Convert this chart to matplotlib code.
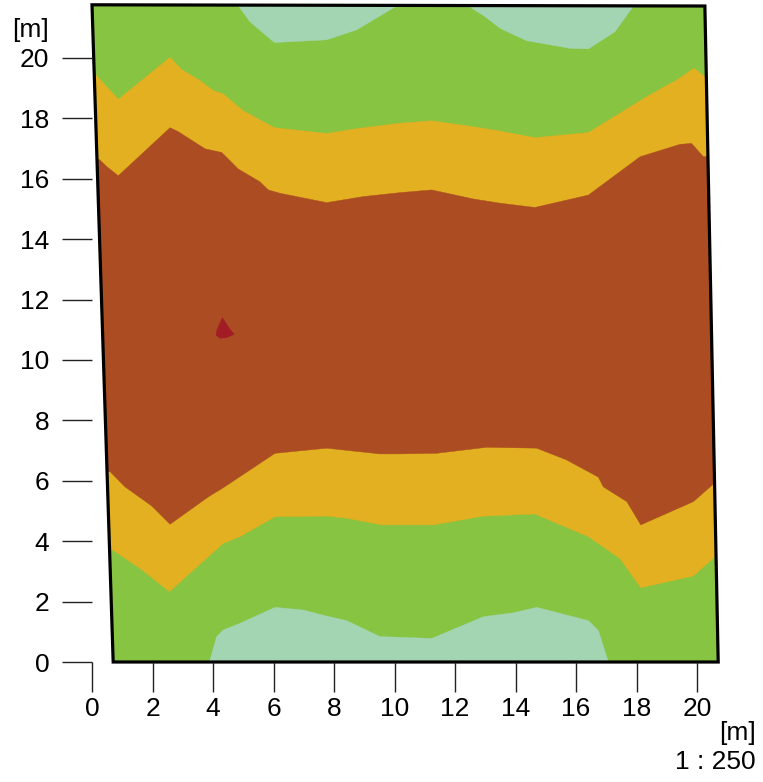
import numpy as np
import matplotlib.pyplot as plt
from matplotlib.patches import Polygon

plt.rcParams['font.family'] = ['Liberation Sans', 'DejaVu Sans']

# outline of the plot area [m]
outline_x = [0.0, 0.70, 20.70, 20.26]
outline_y = [21.76, 0.0, 0.0, 21.72]

# band boundaries (x, y) in metres, left to right
pale_top_left_x = [4.84, 5.22, 6.03, 7.76, 8.75, 10.07]
pale_top_left_y = [21.72, 21.2, 20.51, 20.6, 20.93, 21.72]
pale_top_right_x = [12.44, 12.99, 13.49, 14.37, 15.8, 16.41, 17.29, 17.9]
pale_top_right_y = [21.72, 21.37, 20.98, 20.57, 20.32, 20.30, 20.87, 21.72]

orange_top_x = [0.13, 0.87, 2.58, 2.96, 3.57, 4.01, 4.34, 5.0, 6.03, 7.76, 8.75,
                10.18, 11.23, 12.55, 13.49, 14.64, 16.41, 18.34, 19.33, 19.9, 20.23]
orange_top_y = [19.44, 18.63, 20.02, 19.62, 19.25, 18.92, 18.81, 18.25, 17.69, 17.5, 17.66,
                17.84, 17.92, 17.73, 17.58, 17.36, 17.53, 18.72, 19.27, 19.66, 19.40]

brown_top_x = [0.24, 0.49, 0.87, 2.58, 2.85, 3.74, 4.29, 4.84, 5.55, 5.83, 6.21, 7.76, 8.97,
               10.18, 11.23, 12.61, 13.49, 14.64, 16.41, 18.12, 19.44, 19.82, 20.21]
brown_top_y = [16.64, 16.40, 16.10, 17.69, 17.56, 16.99, 16.87, 16.32, 15.90, 15.63, 15.52, 15.21, 15.41,
               15.54, 15.63, 15.33, 15.19, 15.05, 15.46, 16.73, 17.14, 17.17, 16.73]

brown_bot_x = [0.60, 1.09, 1.97, 2.58, 3.85, 4.34, 6.05, 7.76, 9.52, 10.18, 11.39, 13.05,
               14.70, 15.69, 16.74, 16.90, 17.68, 18.14, 19.88, 20.54]
brown_bot_y = [6.30, 5.80, 5.17, 4.56, 5.47, 5.77, 6.91, 7.08, 6.89, 6.89, 6.91, 7.11,
               7.08, 6.69, 6.12, 5.80, 5.31, 4.54, 5.31, 5.89]

orange_bot_x = [0.68, 1.59, 2.56, 4.34, 4.89, 6.05, 7.76, 8.42, 9.58, 10.18, 11.28, 12.94,
                14.64, 16.41, 17.45, 18.14, 19.88, 20.60]
orange_bot_y = [3.71, 3.10, 2.33, 3.93, 4.15, 4.81, 4.83, 4.76, 4.54, 4.54, 4.54, 4.83,
                4.90, 4.15, 3.43, 2.46, 2.85, 3.49]

pale_bot_x = [3.88, 4.12, 4.34, 4.89, 6.05, 6.99, 7.76, 8.42, 9.52, 10.18, 11.23, 12.94,
              13.93, 14.70, 16.41, 16.74, 17.07]
pale_bot_y = [0.0, 0.84, 1.06, 1.28, 1.81, 1.72, 1.52, 1.37, 0.84, 0.82, 0.78, 1.50,
              1.63, 1.81, 1.37, 1.04, 0.0]

spot_x = [4.31, 4.56, 4.70, 4.45, 4.23, 4.10, 4.13, 4.22]
spot_y = [11.40, 11.02, 10.85, 10.74, 10.72, 10.82, 11.00, 11.20]

c_pale = '#a3d5b2'
c_green = '#86c442'
c_orange = '#e2b020'
c_brown = '#ab4c22'
c_red = '#a11c25'


def extend(xs, ys):
    # stretch a boundary past both edges so the clip cuts it cleanly
    return [-1.0] + list(xs) + [22.0], [ys[0]] + list(ys) + [ys[-1]]


def cap(xs, ys, yend):
    # close a patch that touches the top or bottom edge
    return [xs[0]] + list(xs) + [xs[-1]], [yend] + list(ys) + [yend]


fig = plt.figure(figsize=(7.63, 7.82), dpi=100)
ax = fig.add_axes([92 / 763, 120 / 782, 626.8 / 763, 657.2 / 782])
ax.set_xlim(0, 20.72)
ax.set_ylim(0, 21.76)

quad = Polygon(np.column_stack([outline_x, outline_y]), closed=True,
               facecolor=c_green, edgecolor='none')
ax.add_patch(quad)

bands = []
ox1, oy1 = extend(orange_bot_x, orange_bot_y)
ox2, oy2 = extend(orange_top_x, orange_top_y)
bands.append((ox1 + ox2[::-1], oy1 + oy2[::-1], c_orange))
bx1, by1 = extend(brown_bot_x, brown_bot_y)
bx2, by2 = extend(brown_top_x, brown_top_y)
bands.append((bx1 + bx2[::-1], by1 + by2[::-1], c_brown))
bands.append(cap(pale_bot_x, pale_bot_y, -1.0) + (c_pale,))
bands.append(cap(pale_top_left_x, pale_top_left_y, 23.0) + (c_pale,))
bands.append(cap(pale_top_right_x, pale_top_right_y, 23.0) + (c_pale,))
bands.append((spot_x, spot_y, c_red))

for xs, ys, col in bands:
    p = Polygon(np.column_stack([xs, ys]), closed=True, facecolor=col,
                edgecolor=col, lw=0.3)
    ax.add_patch(p)
    p.set_clip_path(quad)

ax.add_patch(Polygon(np.column_stack([outline_x, outline_y]), closed=True,
                     fill=False, edgecolor='black', lw=2.3, clip_on=False,
                     joinstyle='miter'))

for s in ax.spines.values():
    s.set_visible(False)
ax.set_xticks(np.arange(0, 21, 2))
ax.set_yticks(np.arange(0, 21, 2))
ax.tick_params(direction='out', length=21.6, width=1.0, color='#222222',
               labelsize=19)
ax.tick_params(axis='x', pad=3.5)
ax.tick_params(axis='y', pad=9)
ax.patch.set_visible(False)

fig.text(31 / 763, 1 - 30 / 782, '[m]', fontsize=19, ha='center', va='center')
fig.text(756 / 763, 1 - 733 / 782, '[m]', fontsize=19, ha='right', va='center')
fig.text(756 / 763, 1 - 762 / 782, '1 : 250', fontsize=19, ha='right', va='center')

fig.savefig('out.png', dpi=100)
